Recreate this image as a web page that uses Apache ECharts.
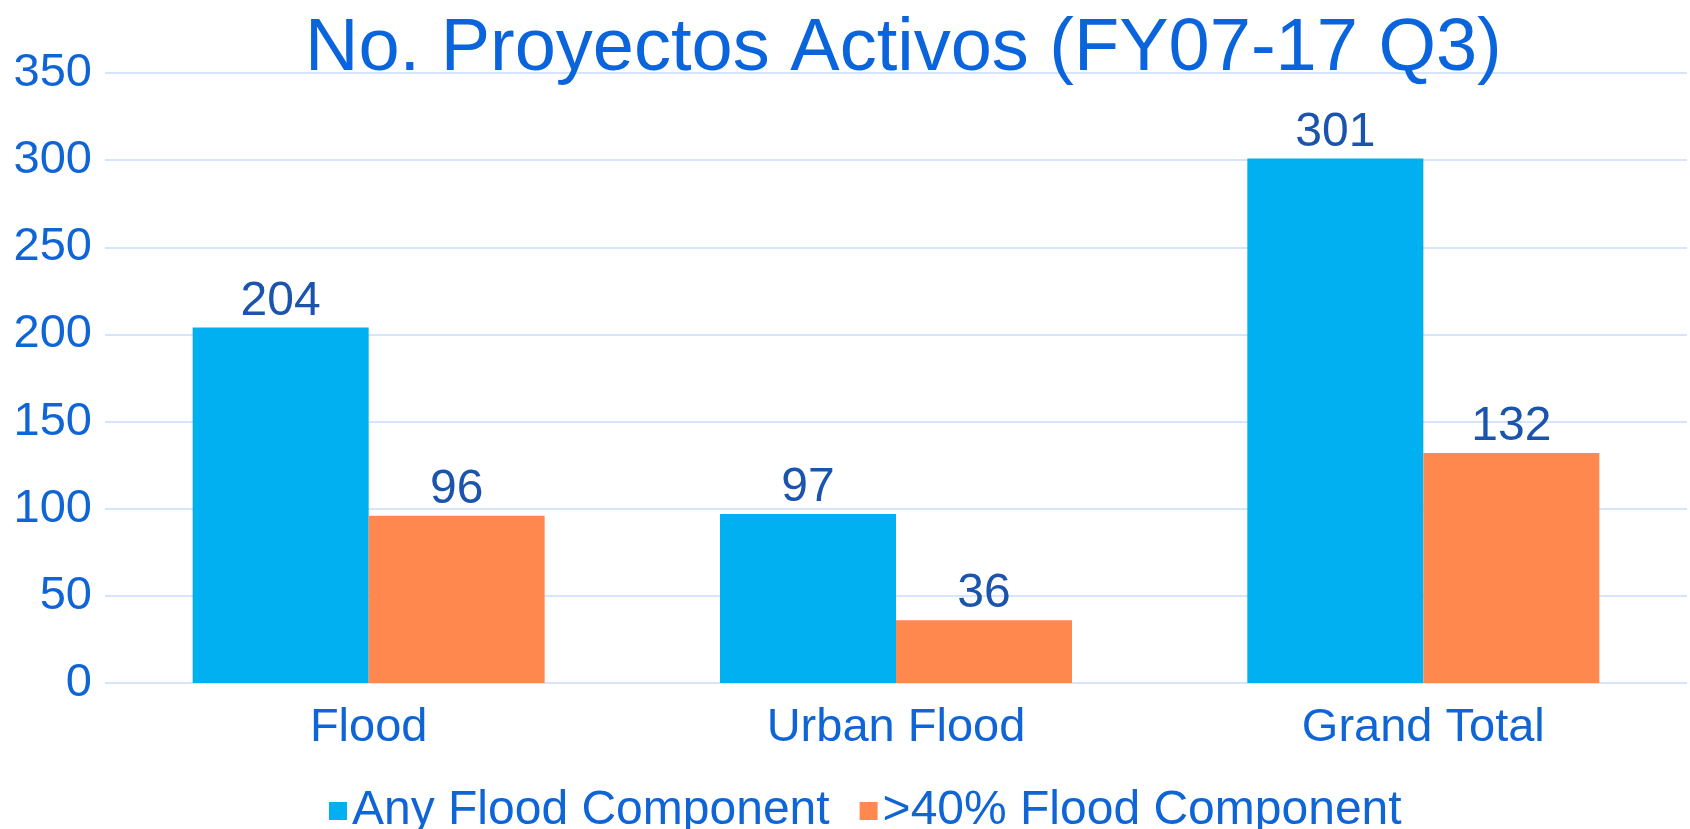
<!DOCTYPE html>
<html>
<head>
<meta charset="utf-8">
<script src="https://cdn.jsdelivr.net/npm/echarts@6/dist/echarts.min.js"></script>
<style>html,body{margin:0;padding:0;background:#fff;}#c{width:1690px;height:829px;}</style>
</head>
<body>
<div id="c"></div>
<script>
const titleText = 'No. Proyectos Activos (FY07-17 Q3)';
const categories = ['Flood', 'Urban Flood', 'Grand Total'];
const seriesNames = ['Any Flood Component', '>40% Flood Component'];
const anyFlood = [204, 97, 301];
const over40 = [96, 36, 132];
const yTicks = [0, 50, 100, 150, 200, 250, 300, 350];

const FONT = '"Liberation Sans", Arial, sans-serif';
const AXIS_BLUE = '#0f64d6';
const LABEL_BLUE = '#1a54ad';
const yMin = yTicks[0], yMax = yTicks[yTicks.length - 1], yStep = yTicks[1] - yTicks[0];

const chart = echarts.init(document.getElementById('c'), null, {renderer: 'canvas'});
chart.setOption({
  backgroundColor: '#ffffff',
  animation: false,
  title: {
    text: titleText,
    left: 300, top: 8,
    textStyle: {fontFamily: FONT, fontSize: 74, fontWeight: 'normal', color: '#0a64dc'}
  },
  legend: {
    data: seriesNames,
    left: 324, top: 782,
    icon: 'rect', itemWidth: 18, itemHeight: 18, itemGap: 30,
    textStyle: {fontFamily: FONT, fontSize: 48, color: AXIS_BLUE}
  },
  grid: {left: 105, right: 3, top: 73, bottom: 146},
  xAxis: {
    type: 'category', data: categories,
    axisLine: {show: false}, axisTick: {show: false},
    axisLabel: {fontFamily: FONT, fontSize: 47, color: AXIS_BLUE, margin: 22}
  },
  yAxis: {
    type: 'value', min: yMin, max: yMax, interval: yStep,
    axisLine: {show: false}, axisTick: {show: false},
    axisLabel: {fontFamily: FONT, fontSize: 47, color: AXIS_BLUE, margin: 13},
    splitLine: {show: true, lineStyle: {color: '#d6e5fb', width: 2}}
  },
  series: [
    {
      name: seriesNames[0], type: 'bar',
      data: anyFlood, barWidth: 176, barGap: '0%',
      itemStyle: {color: '#00b0f0'},
      label: {show: true, position: 'top', distance: 2, fontFamily: FONT, fontSize: 48, color: LABEL_BLUE}
    },
    {
      name: seriesNames[1], type: 'bar',
      data: over40, barWidth: 176, barGap: '0%',
      itemStyle: {color: '#ff884e'},
      label: {show: true, position: 'top', distance: 2, fontFamily: FONT, fontSize: 48, color: LABEL_BLUE}
    }
  ]
});
</script>
</body>
</html>
